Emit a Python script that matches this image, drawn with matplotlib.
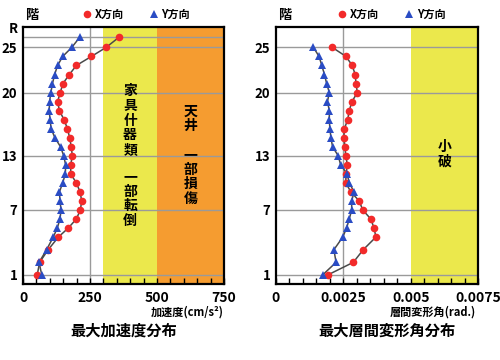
import matplotlib
matplotlib.use("Agg")
import matplotlib.pyplot as plt
from matplotlib.ticker import MultipleLocator

plt.rcParams['font.family'] = ['Noto Sans CJK JP', 'DejaVu Sans']
plt.rcParams['font.weight'] = 'bold'

# floor levels (m above 1F); the lower stories are taller
floors = ['1', '2', '3', '4', '5', '6', '7', '8', '9', '10', '11', '12', '13',
          '14', '15', '16', '17', '18', '19', '20', '21', '22', '23', '24', '25', 'R']
level = [0.0, 4.2, 8.4, 12.6, 15.6, 18.6, 21.6, 24.6, 27.6, 30.6, 33.6, 36.6, 39.6,
         42.6, 45.6, 48.6, 51.6, 54.6, 57.6, 60.6, 63.6, 66.6, 69.6, 72.6, 75.6, 78.9]
tick_floors = ['1', '7', '13', '20', '25']

# max acceleration (cm/s2), 1F .. R
acc_x = [53, 62, 94, 132, 169, 199, 214, 219, 213, 199, 178, 178, 184,
         180, 174, 166, 153, 136, 129, 139, 149, 173, 199, 255, 310, 357]
acc_y = [70, 60, 88, 113, 128, 138, 142, 138, 136, 148, 158, 159, 152,
         140, 119, 105, 101, 98, 99, 104, 110, 118, 129, 148, 182, 211]

# max story drift angle (rad), 1F .. 25F
drift_x = [0.00192, 0.00287, 0.00324, 0.00371, 0.00364, 0.00352, 0.00322, 0.00309,
           0.00278, 0.00259, 0.00260, 0.00265, 0.00259, 0.00256, 0.00252, 0.00254,
           0.00266, 0.00272, 0.00282, 0.00302, 0.00297, 0.00294, 0.00283, 0.00260, 0.00209]
drift_y = [0.00173, 0.00223, 0.00215, 0.00248, 0.00262, 0.00272, 0.00281, 0.00281,
           0.00290, 0.00272, 0.00264, 0.00240, 0.00231, 0.00210, 0.00204, 0.00200,
           0.00198, 0.00198, 0.00191, 0.00198, 0.00188, 0.00180, 0.00170, 0.00160, 0.00139]

RED = '#f22a2a'
BLUE = '#2a4cc4'
LINE = '#4a4a4a'
YELLOW = '#ebe84c'
ORANGE = '#f59c30'
GRID = '#9a9a9a'


def style_axes(ax, xmax, major, minor, fmt):
    ax.set_xlim(0, xmax)
    ax.set_ylim(-3.0, 82.4)
    ax.xaxis.set_major_locator(MultipleLocator(major))
    ax.xaxis.set_minor_locator(MultipleLocator(minor))
    ticks = ax.get_xticks()
    ax.set_xticks(ticks)
    ax.set_xticklabels([fmt(t) for t in ticks])
    ax.set_xlim(0, xmax)
    ax.tick_params(axis='x', which='both', direction='in', length=4, width=1,
                   labelsize=10, pad=5)
    ax.tick_params(axis='y', length=0, labelsize=9.5, pad=4)
    yt = [level[floors.index(f)] for f in tick_floors]
    ax.set_yticks(yt)
    ax.set_yticklabels(tick_floors)
    for t in ax.get_xticklabels() + ax.get_yticklabels():
        t.set_fontweight('bold')
    for s in ax.spines.values():
        s.set_linewidth(1.6)
    for y in yt:
        ax.axhline(y, color=GRID, lw=1, zorder=1)


def plot_series(ax, xs, ys, label, color, marker):
    ax.plot(xs, ys, color=LINE, lw=1.1, zorder=3)
    ax.plot(xs, ys, ls='none', marker=marker, ms=5.5, color=color,
            markeredgewidth=0, zorder=4, label=label)


fig = plt.figure(figsize=(5, 3.6), dpi=100)

# left: max acceleration
ax1 = fig.add_axes([0.046, 0.2111, 0.402, 0.714])
ax1.axvspan(300, 500, color=YELLOW, zorder=0.5, lw=0)
ax1.axvspan(500, 750, color=ORANGE, zorder=0.5, lw=0)
style_axes(ax1, 750, 250, 50, lambda t: '%d' % t)
ax1.axvline(250, color=GRID, lw=1, zorder=1)
ax1.axhline(level[-1], color=GRID, lw=1, zorder=1)
ax1.annotate('R', xy=(0, level[-1]), xycoords=('axes fraction', 'data'),
             xytext=(-4, 6), textcoords='offset points', ha='right', va='center',
             fontsize=9.5, fontweight='bold')
plot_series(ax1, acc_x, level, 'X方向', RED, 'o')
plot_series(ax1, acc_y, level, 'Y方向', BLUE, '^')
ax1.text(400, 51.3, '家\n具\n什\n器\n類', ha='center', va='center', fontsize=10,
         fontweight='bold', linespacing=1.05)
ax1.text(400, 25.2, '一\n部\n転\n倒', ha='center', va='center', fontsize=10,
         fontweight='bold', linespacing=1.05)
ax1.text(625, 51.8, '天\n井', ha='center', va='center', fontsize=10,
         fontweight='bold', linespacing=1.05)
ax1.text(625, 32.6, '一\n部\n損\n傷', ha='center', va='center', fontsize=10,
         fontweight='bold', linespacing=1.05)
ax1.text(1.0, -0.11, '加速度(cm/s²)', transform=ax1.transAxes, ha='right',
         va='center', fontsize=8, fontweight='bold')
ax1.text(0.5, -0.18, '最大加速度分布', transform=ax1.transAxes, ha='center',
         va='center', fontsize=11, fontweight='bold')
ax1.text(0.045, 1.047, '階', transform=ax1.transAxes, ha='center',
         va='center', fontsize=9.5, fontweight='bold')
ax1.legend(loc='center', bbox_to_anchor=(0.56, 1.047), ncol=2, frameon=False,
           fontsize=8, handlelength=1.0, handletextpad=0.2, columnspacing=2.2,
           borderpad=0)

# right: max story drift angle
ax2 = fig.add_axes([0.552, 0.2111, 0.404, 0.714])
ax2.axvspan(0.005, 0.0075, color=YELLOW, zorder=0.5, lw=0)
style_axes(ax2, 0.0075, 0.0025, 0.0005,
           lambda t: '0' if t == 0 else ('%g' % t))
ax2.axvline(0.0025, color=GRID, lw=1, zorder=1)
plot_series(ax2, drift_x, level[:25], 'X方向', RED, 'o')
plot_series(ax2, drift_y, level[:25], 'Y方向', BLUE, '^')
ax2.text(0.00625, 40.0, '小\n破', ha='center', va='center', fontsize=10,
         fontweight='bold', linespacing=1.05)
ax2.text(0.99, -0.11, '層間変形角(rad.)', transform=ax2.transAxes, ha='right',
         va='center', fontsize=8, fontweight='bold')
ax2.text(0.55, -0.18, '最大層間変形角分布', transform=ax2.transAxes, ha='center',
         va='center', fontsize=11, fontweight='bold')
ax2.text(0.045, 1.047, '階', transform=ax2.transAxes, ha='center',
         va='center', fontsize=9.5, fontweight='bold')
ax2.legend(loc='center', bbox_to_anchor=(0.57, 1.047), ncol=2, frameon=False,
           fontsize=8, handlelength=1.0, handletextpad=0.2, columnspacing=2.2,
           borderpad=0)

fig.savefig('out.png', dpi=100)
